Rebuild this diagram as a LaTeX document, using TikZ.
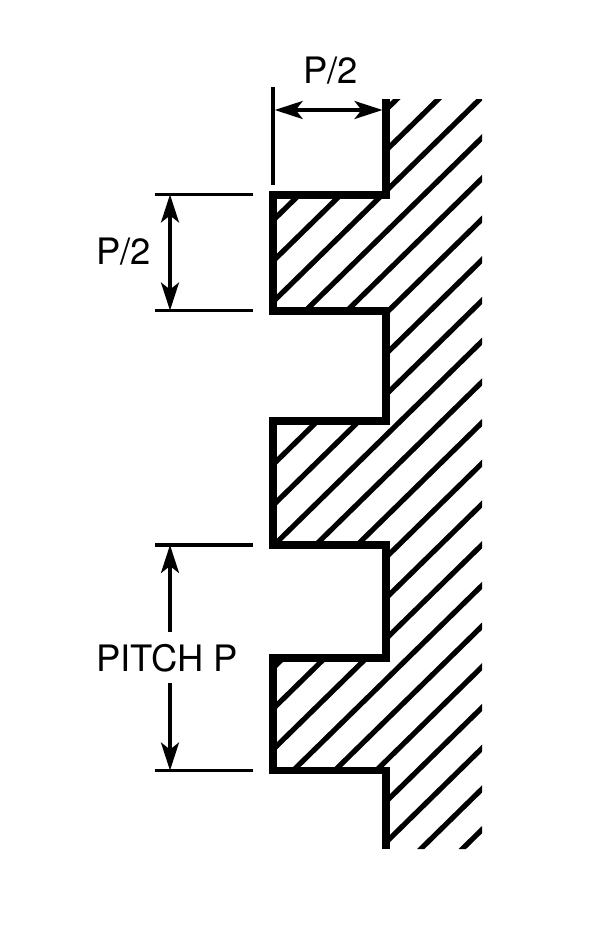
\documentclass[tikz,border=0pt]{standalone}
\usepackage{fontspec}
\setmainfont{TeX Gyre Heros}
\usetikzlibrary{arrows.meta}
\tikzset{
  wall/.style={line width=7.6pt,black,miter limit=10},
  hatchline/.style={line width=5.2pt,black},
  extline/.style={line width=3.8pt,black},
  dimarrow/.style={line width=3.5pt,black,{Stealth[length=28pt,width=18pt,inset=7pt]}-{Stealth[length=28pt,width=18pt,inset=7pt]}},
  onetip/.style={line width=3.5pt,black,-{Stealth[length=28pt,width=18pt,inset=7pt]}},
  dimlabel/.style={inner sep=0pt,font=\fontsize{36.4}{40}\selectfont}
}
\begin{document}
\begin{tikzpicture}[x=1pt,y=-1pt]
    \useasboundingbox (0,0) rectangle (600,942);

    \foreach \y/\i in {99/0,195/1,311/2,421/3,545/4,658/5,770.5/6,849/7} {
        \coordinate (in\i) at (386,\y);
        \coordinate (out\i) at (273,\y);}

    \begin{scope}
        \clip (in0) -- (in1) -- (out1) -- (out2) -- (in2) -- (in3) -- (out3) -- (out4) -- (in4) -- (in5) -- (out5) -- (out6) -- (in6) -- (in7) -- (482,849) -- (482,99) -- cycle;
        \foreach \k in {-2,...,18} {
            \draw [hatchline] (490,{97+40.7*\k-7.8}) -- (260,{97+40.7*\k+217.6});}
    \end{scope}

    \draw [wall] (in0) -- (in1) -- (out1) -- (out2) -- (in2) -- (in3) -- (out3) -- (out4) -- (in4) -- (in5) -- (out5) -- (out6) -- (in6) -- (in7);

    % top dimension
    \node[dimlabel] (halftop) at (330.5,71) {P/2};
    \draw [extline] (273,87) coordinate (extup) -- (273,185) coordinate (extdown);
    \coordinate (widthl) at (274.7,110);
    \coordinate (widthr) at (382.5,110);
    \draw [dimarrow] (widthl) -- (widthr);

    % left dimensions
    \foreach \y/\i in {194.5/a,310.5/b,545/c,770.5/d} {
        \draw [extline] (155,\y) coordinate (\i) -- (253,\y);
        \coordinate (tip\i) at (170,\y);}
    \node[dimlabel] (halfleft) at (123.5,252) {P/2};
    \draw [dimarrow] (tipa) -- (tipb);

    \node[dimlabel] (pitch) at (167,658) {PITCH P};
    \coordinate (pitchup) at (170,632);
    \coordinate (pitchdown) at (170,683);
    \draw [onetip] (pitchup) -- (tipc);
    \draw [onetip] (pitchdown) -- (tipd);
\end{tikzpicture}
\end{document}
